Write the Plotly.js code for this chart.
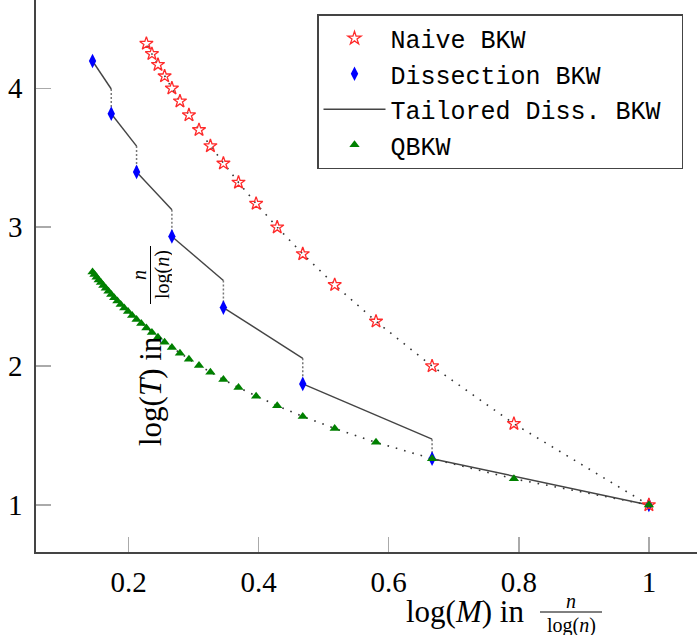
<!DOCTYPE html>
<html>
<head>
<meta charset="utf-8">
<script src="https://cdn.plot.ly/plotly-3.0.1.min.js"></script>
<style>
  html, body { margin: 0; padding: 0; overflow: hidden; background: #fff; width: 697px; height: 641px; }
  #chart { position: absolute; left: 0; top: -2px; width: 706px; height: 643px; }
</style>
</head>
<body>
<div id="chart"></div>
<script>
// ---- data (log(M), log(T) in units of n/log(n)) ----
const naiveM = [1.0, 0.7925, 0.6667, 0.5805, 0.5170, 0.4679, 0.4286, 0.3962, 0.3691, 0.3459, 0.3259, 0.3084, 0.2929, 0.2791, 0.2667, 0.2555, 0.2453, 0.2360, 0.2275];
const naiveT = [1.0, 1.5850, 2.0, 2.3219, 2.5850, 2.8074, 3.0, 3.1699, 3.3219, 3.4594, 3.5850, 3.7004, 3.8074, 3.9069, 4.0, 4.0875, 4.1699, 4.2479, 4.3219];

const dissM = [0.1447, 0.1735, 0.2124, 0.2667, 0.3459, 0.4679, 0.6667, 1.0];
const dissT = [4.1965, 3.8170, 3.3977, 2.9333, 2.4216, 1.8716, 1.3333, 1.0];
// tailored dissection: time reached at the next memory level before dropping
const tailoredEndT = [3.9950, 3.5839, 3.1261, 2.6162, 2.0558, 1.4740, 1.0];

const qbkwM = [1.0, 0.7925, 0.6667, 0.5805, 0.5170, 0.4679, 0.4286, 0.3962, 0.3691, 0.3459, 0.3259, 0.3084, 0.2929, 0.2791, 0.2667, 0.2555, 0.2453, 0.2360, 0.2275, 0.2196, 0.2124, 0.2056, 0.1993, 0.1935, 0.1880, 0.1829, 0.1780, 0.1735, 0.1692, 0.1651, 0.1613, 0.1576, 0.1542, 0.1509, 0.1477, 0.1447];
const qbkwT = [1.0, 1.1887, 1.3333, 1.4512, 1.5510, 1.6376, 1.7143, 1.7831, 1.8455, 1.9027, 1.9555, 2.0044, 2.0501, 2.0930, 2.1333, 2.1715, 2.2076, 2.2420, 2.2747, 2.3060, 2.3359, 2.3646, 2.3922, 2.4187, 2.4442, 2.4688, 2.4927, 2.5157, 2.5380, 2.5597, 2.5806, 2.6011, 2.6207, 2.6400, 2.6588, 2.6771];

const xTickVals = [0.2, 0.4, 0.6, 0.8, 1];
const xTickText = ["0.2", "0.4", "0.6", "0.8", "1"];
const yTickVals = [1, 2, 3, 4];
const yTickText = ["1", "2", "3", "4"];

const seriesNames = ["Naive BKW", "Dissection BKW", "Tailored Diss. BKW", "QBKW"];

// build tailored segments from the arrays
const tailX = [], tailY = [], dropX = [], dropY = [];
for (let i = 0; i < tailoredEndT.length; i++) {
  tailX.push(dissM[i], dissM[i + 1], null);
  tailY.push(dissT[i], tailoredEndT[i], null);
  dropX.push(dissM[i + 1], dissM[i + 1], null);
  dropY.push(tailoredEndT[i], dissT[i + 1], null);
}

const dotLine = { color: '#333', width: 1.6, dash: '1.6px,7px' };

const traces = [
  { x: naiveM, y: naiveT, mode: 'lines', line: dotLine, showlegend: false, hoverinfo: 'skip' },
  { x: qbkwM, y: qbkwT, mode: 'lines', line: dotLine, showlegend: false, hoverinfo: 'skip' },
  { x: dropX, y: dropY, mode: 'lines', line: { color: '#777', width: 1.5, dash: '2px,2px' }, showlegend: false, hoverinfo: 'skip', connectgaps: false },
  { x: tailX, y: tailY, mode: 'lines', name: seriesNames[2] + '\u00a0', legendrank: 3, line: { color: '#444', width: 1.4 }, connectgaps: false },
  { x: dissM, y: dissT, mode: 'markers', name: seriesNames[1], legendrank: 2,
    marker: { symbol: 'diamond-tall', size: 10.5, color: '#0000ff', line: { width: 0 } } },
  { x: naiveM, y: naiveT, mode: 'markers', name: seriesNames[0], legendrank: 1,
    marker: { symbol: 'star-open', size: 10, color: '#ff2a2a', line: { width: 1.3, color: '#ff2a2a' } } },
  { x: qbkwM, y: qbkwT, mode: 'markers', name: seriesNames[3], legendrank: 4,
    marker: { symbol: 'triangle-up', size: 9, color: '#008000', line: { width: 0 } } }
];

// plot area: x px 36..706 (670 wide), y px -2..552 (554 tall)
function px(p) { return (p - 36) / 670; }
function py(p) { return (552 - p) / 554; }

const serif = 'Liberation Serif, Times New Roman, serif';

const axBase = {
  showgrid: false, zeroline: false,
  ticks: 'inside', ticklen: 15, tickwidth: 1.5, tickcolor: '#aaa',
  tickfont: { family: serif, size: 29, color: '#000' }
};

const layout = {
  width: 706, height: 643,
  margin: { l: 36, r: 0, t: 0, b: 89, pad: 0 },
  paper_bgcolor: '#fff', plot_bgcolor: '#fff',
  showlegend: true,
  xaxis: Object.assign({}, axBase, {
    range: [0.0578, 1.0878], tickvals: xTickVals, ticktext: xTickText,
    showline: true, linecolor: '#444', linewidth: 1.6, ticklabelstandoff: 4
  }),
  yaxis: Object.assign({}, axBase, {
    range: [0.6616, 4.6501], tickvals: yTickVals, ticktext: yTickText,
    showline: true, linecolor: '#444', linewidth: 1.6, ticklabelstandoff: 6
  }),
  xaxis2: Object.assign({}, axBase, {
    overlaying: 'x', side: 'top', anchor: 'y', range: [0.0578, 1.0878],
    tickvals: xTickVals, showticklabels: false, showline: false
  }),
  yaxis2: Object.assign({}, axBase, {
    overlaying: 'y', side: 'right', anchor: 'x', range: [0.6616, 4.6501],
    tickvals: yTickVals, showticklabels: false, showline: false
  }),
  legend: {
    x: px(317), y: py(14), xanchor: 'left', yanchor: 'top',
    bgcolor: '#fff', bordercolor: '#444', borderwidth: 1.5,
    font: { family: 'Liberation Mono, DejaVu Sans Mono, monospace', size: 25, color: '#000' },
    itemwidth: 62, traceorder: 'normal'
  },
  annotations: [
    { xref: 'paper', yref: 'paper', x: px(464.5), y: py(611), xanchor: 'center', yanchor: 'middle',
      text: 'log(<i>M</i>) in', showarrow: false, font: { family: serif, size: 31, color: '#000' } },
    { xref: 'paper', yref: 'paper', x: px(571), y: py(601), xanchor: 'center', yanchor: 'middle', height: 16,
      text: '<i>n</i>', showarrow: false, font: { family: serif, size: 20, color: '#000' } },
    { xref: 'paper', yref: 'paper', x: px(571), y: py(625), xanchor: 'center', yanchor: 'middle', height: 20,
      text: 'log(<i>n</i>)', showarrow: false, font: { family: serif, size: 20, color: '#000' } },
    { xref: 'paper', yref: 'paper', x: px(150), y: py(391), xanchor: 'center', yanchor: 'middle', textangle: -90,
      text: 'log(<i>T</i>) in', showarrow: false, font: { family: serif, size: 31, color: '#000' } },
    { xref: 'paper', yref: 'paper', x: px(139), y: py(275), xanchor: 'center', yanchor: 'middle', textangle: -90, height: 16,
      text: '<i>n</i>', showarrow: false, font: { family: serif, size: 20, color: '#000' } },
    { xref: 'paper', yref: 'paper', x: px(162), y: py(275), xanchor: 'center', yanchor: 'middle', textangle: -90, height: 20,
      text: 'log(<i>n</i>)', showarrow: false, font: { family: serif, size: 20, color: '#000' } }
  ],
  shapes: [
    { type: 'line', xref: 'paper', yref: 'paper', x0: px(540), x1: px(602), y0: py(612), y1: py(612),
      line: { color: '#000', width: 1 } },
    { type: 'line', xref: 'paper', yref: 'paper', x0: px(150.5), x1: px(150.5), y0: py(246), y1: py(304),
      line: { color: '#000', width: 1 } }
  ]
};

Plotly.newPlot('chart', traces, layout, { staticPlot: true, displayModeBar: false });
</script>
</body>
</html>
